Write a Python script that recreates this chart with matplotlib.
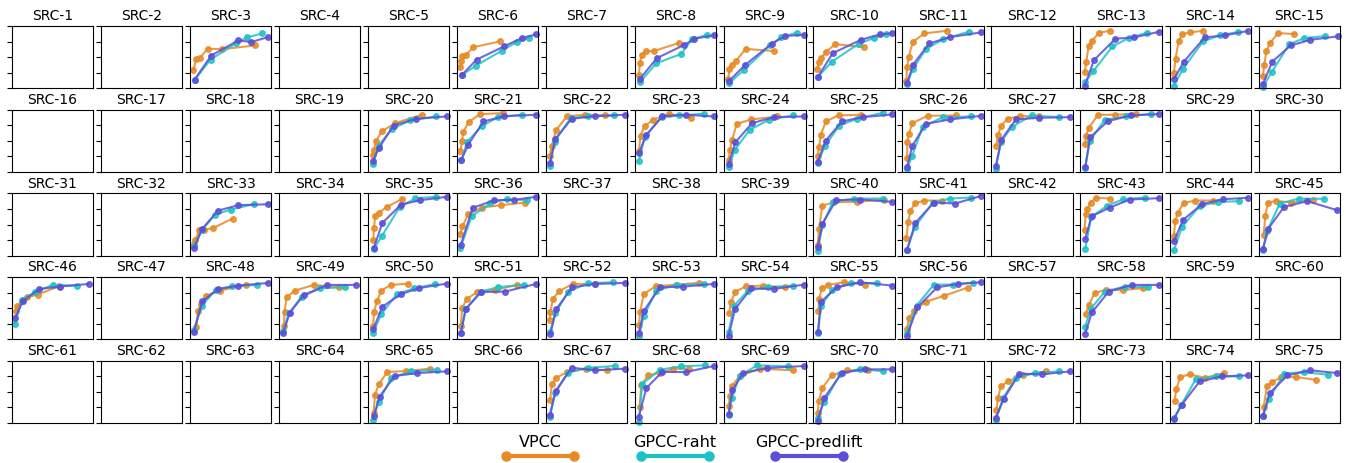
import matplotlib
matplotlib.use("Agg")
import matplotlib.pyplot as plt
from matplotlib.lines import Line2D

# rate-quality curves per source (normalised rate, normalised quality); missing sources have no data
methods = ["VPCC", "GPCC-raht", "GPCC-predlift"]
colors = ["#e88a24", "#1cc3c6", "#5b4fd8"]

vpcc = {
    3: ([.045, .078, .123, .218, .395, .802], [.297, .465, .486, .632, .627, .686]),
    6: ([.042, .054, .067, .112, .2, .525], [.335, .443, .514, .535, .659, .751]),
    8: ([.046, .058, .079, .129, .228, .544], [.211, .4, .535, .595, .595, .73]),
    9: ([.05, .063, .096, .146, .263, .613], [.146, .308, .378, .438, .632, .595]),
    10: ([.05, .066, .095, .153, .269, .62], [.308, .427, .481, .578, .708, .659]),
    11: ([.05, .058, .079, .128, .269, .554], [.119, .335, .508, .741, .881, .924]),
    13: ([.054, .07, .099, .145, .227, .368], [.265, .416, .67, .762, .892, .924]),
    14: ([.053, .074, .111, .156, .255, .416], [.243, .47, .751, .87, .897, .924]),
    15: ([.053, .07, .095, .14, .239, .436], [.195, .378, .589, .724, .886, .87]),
    20: ([.061, .073, .102, .171, .335, .661], [.27, .357, .503, .654, .784, .919]),
    21: ([.042, .063, .075, .142, .283, .563], [.341, .503, .638, .8, .93, .946]),
    22: ([.046, .071, .125, .258, .479, .721], [.259, .422, .676, .897, .919, .908]),
    23: ([.046, .066, .116, .22, .419, .685], [.341, .584, .735, .838, .935, .87]),
    24: ([.054, .071, .096, .154, .333, .654], [.189, .351, .514, .773, .843, .892]),
    25: ([.054, .07, .091, .157, .31, .587], [.259, .395, .595, .816, .908, .919]),
    26: ([.058, .062, .079, .124, .31, .657], [.216, .486, .611, .784, .903, .908]),
    27: ([.062, .078, .123, .198, .35, .588], [.422, .595, .746, .854, .897, .897]),
    28: ([.058, .07, .103, .215, .43, .682], [.449, .584, .708, .919, .919, .935]),
    33: ([.05, .066, .116, .174, .285, .525], [.184, .243, .416, .416, .443, .595]),
    35: ([.065, .073, .09, .135, .233, .424], [.243, .443, .643, .692, .784, .914]),
    36: ([.042, .067, .138, .304, .542, .833], [.341, .476, .665, .773, .811, .854]),
    40: ([.054, .07, .112, .256, .537, .868], [.173, .432, .805, .859, .865, .903]),
    41: ([.05, .07, .099, .157, .269, .483], [.286, .535, .724, .843, .886, .886]),
    43: ([.05, .062, .083, .124, .194, .368], [.405, .665, .746, .854, .93, .919]),
    44: ([.053, .07, .103, .173, .317, .535], [.308, .551, .686, .849, .886, .886]),
    45: ([.062, .082, .115, .218, .403, .663], [.335, .638, .854, .881, .854, .903]),
    46: ([.05, .07, .124, .186, .318, .579], [.459, .541, .611, .676, .719, .854]),
    48: ([.079, .1, .132, .202, .368, .69], [.205, .449, .568, .703, .784, .876]),
    49: ([.061, .069, .094, .196, .429, .743], [.216, .432, .676, .784, .876, .838]),
    50: ([.065, .073, .114, .163, .278, .498], [.216, .443, .622, .784, .876, .897]),
    51: ([.046, .063, .117, .242, .471, .733], [.216, .497, .649, .757, .795, .876]),
    52: ([.042, .054, .083, .158, .325, .596], [.314, .443, .649, .773, .892, .892]),
    53: ([.046, .062, .104, .253, .502, .78], [.232, .443, .73, .854, .881, .908]),
    54: ([.063, .079, .138, .267, .475, .746], [.422, .595, .768, .854, .865, .838]),
    55: ([.062, .074, .103, .186, .372, .64], [.459, .649, .827, .876, .919, .881]),
    56: ([.058, .079, .145, .289, .517, .802], [.173, .341, .459, .605, .703, .832]),
    58: ([.062, .103, .174, .31, .525, .773], [.405, .557, .741, .8, .795, .822]),
    65: ([.069, .086, .131, .237, .469, .763], [.162, .454, .622, .822, .838, .876]),
    67: ([.05, .071, .125, .263, .488, .75], [.373, .622, .73, .822, .876, .849]),
    68: ([.054, .075, .158, .303, .469, .656], [.265, .605, .768, .805, .876, .876]),
    69: ([.054, .071, .096, .188, .438, .85], [.281, .443, .595, .757, .876, .849]),
    70: ([.054, .07, .112, .227, .413, .674], [.162, .362, .568, .768, .849, .849]),
    72: ([.062, .082, .115, .206, .391, .667], [.216, .405, .589, .676, .768, .832]),
    74: ([.062, .082, .132, .247, .432, .671], [.351, .541, .741, .784, .73, .805]),
    75: ([.062, .103, .169, .28, .465, .7], [.254, .595, .659, .741, .741, .697]),
}

raht = {
    3: ([.058, .255, .572, .704, .893], [.13, .46, .724, .816, .881]),
    6: ([.063, .233, .554, .733, .888], [.211, .362, .605, .741, .805]),
    8: ([.058, .261, .568, .697, .884], [.092, .4, .551, .784, .859]),
    9: ([.063, .246, .563, .704, .892], [.081, .297, .686, .822, .892]),
    10: ([.058, .231, .558, .744, .897], [.184, .427, .714, .805, .876]),
    11: ([.058, .128, .293, .5, .814], [.065, .308, .632, .784, .908]),
    13: ([.054, .157, .393, .591, .822], [.092, .27, .67, .805, .892]),
    14: ([.053, .165, .412, .617, .844], [.038, .308, .751, .849, .903]),
    15: ([.053, .16, .374, .56, .819], [.022, .254, .703, .805, .838]),
    20: ([.061, .131, .294, .522, .833], [.124, .422, .692, .827, .892]),
    21: ([.054, .125, .304, .504, .804], [.184, .486, .735, .881, .919]),
    22: ([.046, .104, .304, .521, .833], [.097, .486, .87, .892, .908]),
    23: ([.046, .116, .324, .544, .842], [.168, .557, .881, .908, .935]),
    24: ([.054, .129, .313, .55, .85], [.07, .351, .676, .838, .908]),
    25: ([.054, .145, .322, .537, .851], [.141, .422, .746, .854, .951]),
    26: ([.058, .12, .248, .496, .839], [.043, .259, .719, .881, .892]),
    27: ([.053, .115, .247, .494, .835], [.043, .476, .719, .908, .881]),
    28: ([.058, .112, .298, .558, .864], [.059, .492, .838, .892, .935]),
    33: ([.05, .145, .31, .504, .785], [.151, .405, .659, .741, .827]),
    35: ([.073, .171, .388, .584, .837], [.108, .314, .778, .924, .946]),
    36: ([.042, .179, .408, .617, .858], [.124, .632, .843, .908, .892]),
    40: ([.054, .112, .24, .504, .855], [.065, .486, .865, .919, .919]),
    41: ([.058, .153, .372, .587, .847], [.097, .459, .849, .919, .935]),
    43: ([.058, .132, .326, .525, .789], [.108, .622, .8, .908, .935]),
    44: ([.053, .152, .37, .597, .856], [.086, .459, .8, .865, .876]),
    45: ([.053, .107, .259, .498, .807], [.097, .4, .838, .919, .914]),
    46: ([.041, .124, .281, .504, .798], [.254, .638, .757, .876, .865]),
    48: ([.05, .145, .318, .517, .822], [.146, .541, .795, .854, .876]),
    49: ([.053, .122, .278, .51, .816], [.135, .416, .686, .822, .838]),
    50: ([.065, .163, .359, .571, .829], [.108, .405, .73, .822, .892]),
    51: ([.046, .104, .292, .5, .825], [.108, .486, .768, .838, .881]),
    52: ([.05, .113, .271, .513, .825], [.124, .416, .768, .903, .919]),
    53: ([.046, .104, .261, .51, .842], [.054, .368, .784, .876, .892]),
    54: ([.054, .121, .292, .542, .85], [.119, .541, .784, .838, .865]),
    55: ([.058, .091, .236, .463, .785], [.108, .53, .8, .903, .908]),
    56: ([.058, .174, .388, .62, .868], [.108, .541, .881, .881, .914]),
    58: ([.058, .124, .298, .545, .835], [.205, .486, .768, .849, .838]),
    65: ([.061, .131, .286, .531, .845], [.054, .335, .73, .832, .859]),
    67: ([.046, .108, .271, .521, .842], [.092, .481, .811, .892, .919]),
    68: ([.046, .087, .303, .564, .863], [.022, .632, .859, .914, .93]),
    69: ([.054, .092, .188, .404, .779], [.135, .4, .757, .93, .914]),
    70: ([.054, .132, .331, .57, .86], [.076, .335, .784, .876, .832]),
    72: ([.053, .144, .3, .535, .835], [.054, .405, .724, .811, .832]),
    74: ([.053, .144, .321, .576, .852], [.076, .292, .703, .751, .751]),
    75: ([.053, .128, .313, .556, .848], [.108, .389, .795, .822, .778]),
}

predlift = {
    3: ([.058, .263, .597, .753, .963], [.135, .524, .768, .741, .822]),
    6: ([.063, .242, .575, .796, .971], [.216, .459, .67, .805, .865]),
    8: ([.058, .266, .606, .726, .967], [.146, .481, .697, .795, .849]),
    9: ([.063, .258, .583, .746, .979], [.119, .373, .714, .838, .859]),
    10: ([.058, .24, .587, .818, .971], [.184, .562, .778, .865, .881]),
    11: ([.058, .132, .331, .587, .971], [.076, .378, .719, .822, .897]),
    13: ([.054, .165, .43, .657, .971], [.038, .449, .795, .816, .908]),
    14: ([.053, .177, .432, .679, .959], [.141, .427, .816, .849, .919]),
    15: ([.053, .169, .395, .638, .971], [.065, .427, .686, .778, .832]),
    20: ([.061, .135, .314, .588, .967], [.178, .384, .746, .854, .892]),
    21: ([.054, .138, .325, .583, .971], [.195, .438, .811, .897, .919]),
    22: ([.046, .113, .313, .596, .967], [.135, .53, .854, .897, .919]),
    23: ([.046, .137, .336, .622, .967], [.303, .595, .897, .919, .892]),
    24: ([.054, .138, .342, .613, .975], [.124, .476, .784, .881, .892]),
    25: ([.054, .153, .351, .612, .971], [.162, .503, .811, .881, .924]),
    26: ([.058, .124, .289, .587, .971], [.081, .422, .773, .843, .903]),
    27: ([.053, .123, .3, .584, .967], [.086, .519, .843, .87, .881]),
    28: ([.058, .119, .338, .616, .971], [.07, .557, .816, .908, .93]),
    33: ([.05, .153, .347, .595, .967], [.119, .432, .724, .811, .827]),
    35: ([.073, .176, .408, .645, .967], [.124, .524, .822, .892, .946]),
    36: ([.046, .192, .458, .7, .971], [.173, .768, .892, .897, .946]),
    40: ([.054, .112, .281, .579, .971], [.135, .514, .892, .903, .865]),
    41: ([.058, .161, .388, .649, .971], [.097, .53, .854, .838, .962]),
    43: ([.058, .136, .36, .607, .967], [.27, .632, .773, .903, .924]),
    44: ([.053, .165, .399, .658, .959], [.227, .573, .827, .908, .93]),
    45: ([.053, .119, .313, .601, .967], [.108, .432, .784, .876, .73]),
    46: ([.041, .136, .339, .591, .95], [.341, .611, .811, .849, .892]),
    48: ([.05, .153, .347, .595, .967], [.124, .611, .811, .865, .908]),
    49: ([.053, .131, .306, .592, .951], [.097, .422, .714, .876, .876]),
    50: ([.065, .176, .4, .633, .967], [.162, .524, .724, .827, .897]),
    51: ([.046, .108, .296, .588, .971], [.097, .486, .762, .768, .892]),
    52: ([.054, .125, .321, .604, .967], [.092, .486, .838, .892, .908]),
    53: ([.046, .108, .303, .593, .967], [.108, .459, .838, .849, .892]),
    54: ([.054, .133, .333, .613, .979], [.054, .486, .822, .811, .881]),
    55: ([.058, .095, .289, .57, .971], [.124, .605, .838, .919, .865]),
    56: ([.058, .182, .43, .69, .971], [.054, .514, .838, .892, .919]),
    58: ([.058, .14, .347, .628, .971], [.092, .432, .768, .876, .876]),
    65: ([.069, .143, .327, .604, .967], [.108, .427, .757, .805, .832]),
    67: ([.046, .117, .313, .604, .967], [.13, .514, .892, .849, .876]),
    68: ([.046, .137, .332, .627, .967], [.103, .562, .822, .822, .919]),
    69: ([.054, .1, .229, .521, .979], [.146, .524, .805, .886, .919]),
    70: ([.054, .136, .351, .64, .971], [.038, .405, .811, .865, .865]),
    72: ([.053, .152, .342, .618, .967], [.081, .389, .795, .784, .832]),
    74: ([.053, .152, .37, .646, .959], [.065, .297, .67, .751, .768]),
    75: ([.053, .136, .354, .638, .967], [.119, .481, .768, .849, .805]),
}

series = [vpcc, raht, predlift]
n_rows, n_cols = 5, 15

fig = plt.figure(figsize=(13.46, 4.64), dpi=100)
axes = fig.subplots(n_rows, n_cols)
fig.subplots_adjust(left=0.0087, right=0.9955, top=0.9418, bottom=0.0862,
                    wspace=0.095, hspace=0.35)

for i, ax in enumerate(axes.flat):
    src = i + 1
    for data, c in zip(series, colors):
        if src in data:
            x, y = data[src]
            ax.plot(x, y, "-o", color=c, lw=1.5, ms=4, alpha=0.85, clip_on=False)
    ax.set_xlim(0, 1)
    ax.set_ylim(0, 1)
    ax.set_xticks([])
    ax.set_yticks([0, 0.25, 0.5, 0.75, 1])
    ax.set_yticklabels([])
    ax.set_title(f"SRC-{src}", fontsize=10, pad=5)

# legend: label above a thick line with markers at both ends
leg_x = [540, 675, 809]
for name, c, xc in zip(methods, colors, leg_x):
    fig.text(xc / 1346, 1 - 443 / 464, name, ha="center", va="center", fontsize=11.5)
    fig.add_artist(Line2D([(xc - 34) / 1346, (xc + 34) / 1346], [1 - 457 / 464] * 2,
                          transform=fig.transFigure, color=c, lw=3, marker="o", ms=6.5))

fig.savefig("out.png", dpi=100)
